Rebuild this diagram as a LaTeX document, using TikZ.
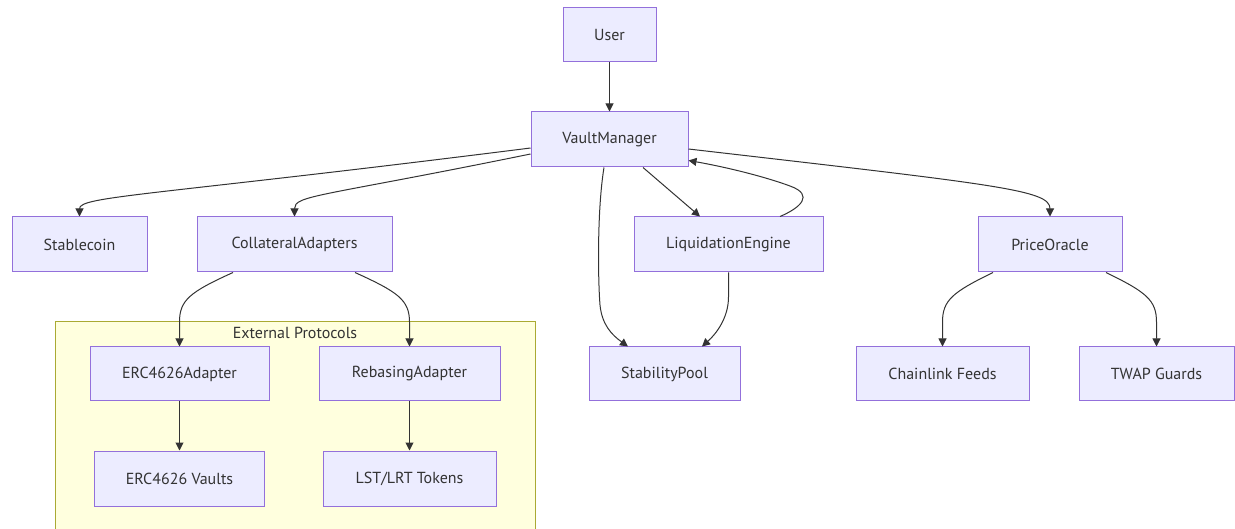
\documentclass[tikz,border=0pt]{standalone}
\usepackage{fontspec}
\setmainfont{PT Sans}
\usetikzlibrary{arrows.meta}
\definecolor{nodefill}{HTML}{ECECFF}
\definecolor{nodeline}{HTML}{9370DB}
\definecolor{groupfill}{HTML}{FFFFDE}
\definecolor{groupline}{HTML}{AAAA33}
\definecolor{ink}{HTML}{333333}
\begin{document}
\begin{tikzpicture}[x=1pt,y=-1pt,
  box/.style={draw=nodeline, fill=nodefill, line width=1pt, minimum height=55pt,
    inner sep=0pt, text=ink, font=\fontsize{16}{19}\selectfont},
  group/.style={draw=groupline, fill=groupfill, line width=1pt, inner sep=0pt},
  grouplabel/.style={text=ink, inner sep=0pt, font=\fontsize{16}{19}\selectfont},
  link/.style={draw=ink, line width=1pt, -{Triangle[length=8pt,width=8pt]}},
]
\useasboundingbox (0,0) rectangle (1235,529);

% subgraph frame (runs past the lower page edge)
\node[group, minimum width=480pt, minimum height=230pt] (ext) at (295,437) {};
\node[grouplabel] (extlbl) at (295,333) {External Protocols};

% nodes
\node[box, minimum width=93pt, minimum height=54pt] (user) at (609.5,35) {User};
\node[box, minimum width=157pt] (vm) at (609.5,139.5) {VaultManager};
\node[box, minimum width=135pt] (sc) at (79.5,244.5) {Stablecoin};
\node[box, minimum width=195pt] (ca) at (294.5,244.5) {CollateralAdapters};
\node[box, minimum width=189pt] (le) at (728.5,244.5) {LiquidationEngine};
\node[box, minimum width=144pt] (po) at (1050,244.5) {PriceOracle};
\node[box, minimum width=179pt, minimum height=54pt] (ea) at (179.5,374) {ERC4626Adapter};
\node[box, minimum width=181pt, minimum height=54pt] (ra) at (409.5,374) {RebasingAdapter};
\node[box, minimum width=170pt] (ev) at (179.5,478.5) {ERC4626 Vaults};
\node[box, minimum width=173pt] (lt) at (409.5,478.5) {LST/LRT Tokens};
\node[box, minimum width=151pt, minimum height=54pt] (sp) at (664.5,374) {StabilityPool};
\node[box, minimum width=173pt, minimum height=54pt] (cf) at (942.5,374) {Chainlink Feeds};
\node[box, minimum width=155pt, minimum height=54pt] (tw) at (1156.5,374) {TWAP Guards};

% connectors
\draw[link] (user) -- (vm);
\draw[link] ([yshift=-8.5pt]vm.west) .. controls (150,196) and (79.5,196) .. (sc.north);
\draw[link] ([yshift=-14.5pt]vm.west) .. controls (320,197) and (294.5,195) .. (ca.north);
\draw[link] ([yshift=-9.5pt]vm.east) .. controls (1000,185) and (1050,190) .. (po.north);
\draw[link] ([xshift=-5.5pt]vm.south) .. controls (597,210) and (598,280) .. (600,305)
  .. controls (602,325) and (612,335) .. ([xshift=-36.5pt]sp.north);
\draw[link] ([xshift=33.5pt]vm.south) -- ([xshift=-28.5pt]le.north);
\draw[link] ([xshift=51.5pt]le.north) .. controls (800,208) and (815,195) .. (790,186)
  .. controls (760,175) and (720,166) .. ([yshift=7pt]vm.south east);
\draw[link] (le.south) -- (728.5,297) .. controls (728.5,318) and (716,334) .. ([xshift=37.5pt]sp.north);
\draw[link] ([xshift=-61.5pt]ca.south) .. controls (190,292) and (179.5,300) .. (179.5,322) -- (ea.north);
\draw[link] ([xshift=60.5pt]ca.south) .. controls (398,292) and (409.5,300) .. (409.5,322) -- (ra.north);
\draw[link] ([xshift=-57pt]po.south) .. controls (953,292) and (942.5,300) .. (942.5,322) -- (cf.north);
\draw[link] ([xshift=56pt]po.south) .. controls (1146,292) and (1156.5,300) .. (1156.5,322) -- (tw.north);
\draw[link] (ea) -- (ev);
\draw[link] (ra) -- (lt);
\end{tikzpicture}
\end{document}
